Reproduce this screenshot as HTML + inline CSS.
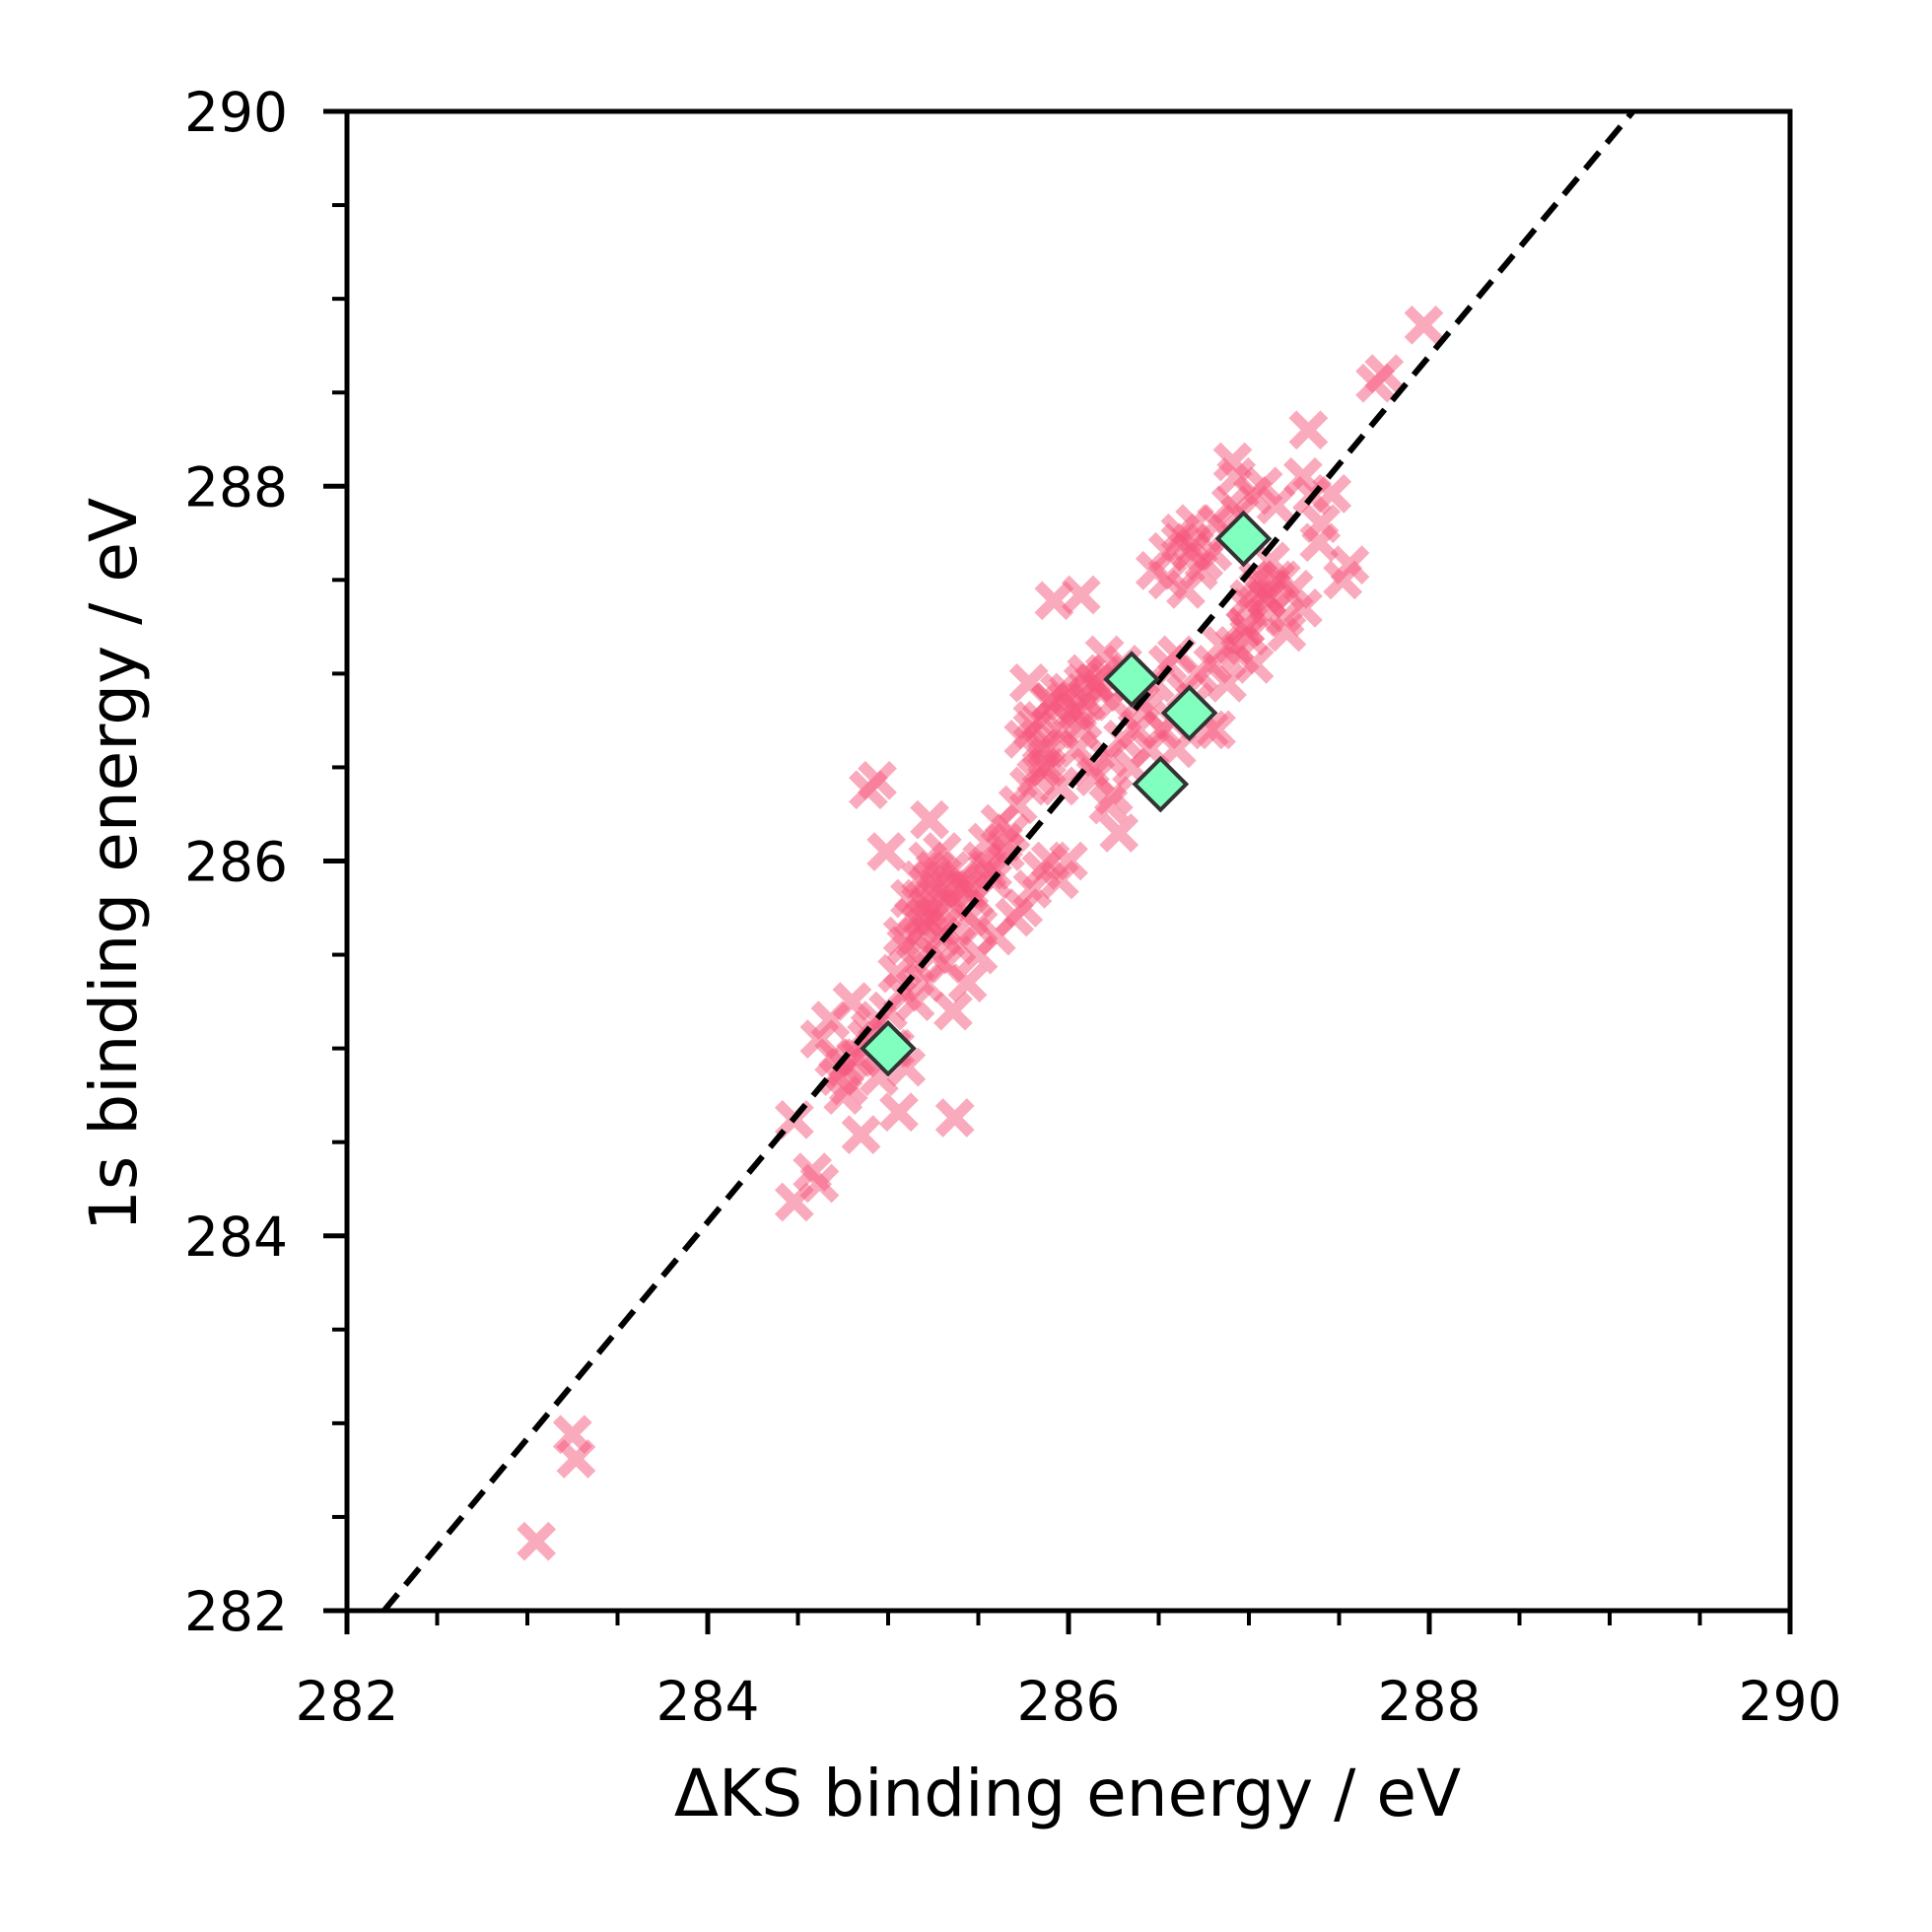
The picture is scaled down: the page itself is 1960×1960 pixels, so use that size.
<!DOCTYPE html>
<html><head><meta charset="utf-8"><style>
html,body{margin:0;padding:0;background:#fff;}
svg{display:block;font-family:"DejaVu Sans","Liberation Sans",sans-serif;}
</style></head><body>
<svg id="chart" width="1960" height="1960" viewBox="0 0 1960 1960" xmlns="http://www.w3.org/2000/svg">
<rect x="0" y="0" width="1960" height="1960" fill="#fff"/>
<g id="crosses"></g>
<line id="parity" stroke="#000" stroke-width="6" stroke-dasharray="22,12"/>
<g id="diamonds"></g>
<g id="axes"></g>
<text x="1083" y="1842" font-size="66" text-anchor="middle">ΔKS binding energy / eV</text>
<text x="0" y="0" font-size="66" text-anchor="middle" transform="translate(138,877) rotate(-90)">1s binding energy / eV</text>
</svg>
<script>
const crossX = [283.05,283.25,283.27,284.48,284.58,284.62,284.48,284.85,285.06,285.37,284.89,284.94,284.99,285.23,285.92,286.07,287.97,287.70,287.75,287.33,286.91,286.93,287.52,287.56,287.21,287.03,287.39,287.46,
284.62,284.68,284.72,284.80,284.85,284.75,284.90,284.95,285.02,285.10,284.70,284.78,285.00,285.08,
285.05,285.10,285.15,285.20,285.25,285.30,285.12,285.18,285.22,285.28,285.35,285.40,285.15,285.20,285.25,285.32,285.38,285.45,285.50,285.08,285.14,285.22,285.30,285.42,285.48,285.55,285.60,285.36,285.44,
285.55,285.62,285.68,285.72,285.58,285.65,285.50,285.75,285.80,285.85,285.90,285.70,285.78,285.88,285.95,286.00,285.82,
285.75,285.80,285.85,285.90,285.95,286.00,286.05,286.10,286.15,286.20,285.78,285.88,285.98,286.08,286.18,286.25,286.30,286.35,285.85,285.95,286.05,286.12,286.22,286.28,
286.15,286.22,286.30,286.38,286.45,286.40,286.48,286.55,286.60,286.25,286.35,286.42,286.52,286.58,286.65,286.72,286.80,286.85,286.70,286.78,286.88,286.95,287.00,
286.48,286.55,286.62,286.68,286.75,286.82,286.90,286.55,286.65,286.72,286.80,286.88,286.95,287.02,287.08,287.15,287.10,287.20,287.25,287.30,287.35,287.00,287.05,287.12,287.18,286.92,286.98,287.40,287.30,286.82,286.60,
285.18,285.24,285.28,285.34,285.26,285.30,285.20,285.16,285.34,285.40,285.85,285.90,285.95,286.02,286.08,285.80,285.88,286.10,286.14,286.20,286.06,287.00,287.05,287.10,287.15,287.08,286.98,287.12,286.62,286.70,286.68,285.45,285.52,285.58,285.64,284.82,284.88,284.76,284.94,285.04];
const crossY = [282.37,282.94,282.81,284.18,284.34,284.28,284.62,284.54,284.66,284.63,286.38,286.43,286.05,286.22,287.39,287.42,288.86,288.55,288.60,288.30,288.13,288.05,287.50,287.58,287.22,287.05,287.70,287.96,
285.05,285.15,284.85,285.25,284.95,284.75,285.10,284.85,285.00,284.90,284.95,284.80,285.20,285.30,
285.40,285.55,285.45,285.65,285.70,285.60,285.80,285.90,285.75,285.85,285.95,285.90,285.25,285.35,285.50,285.45,285.55,285.70,285.65,285.60,285.70,286.00,286.05,285.85,285.80,285.95,285.60,285.20,285.35,
286.10,286.20,286.15,286.30,285.90,286.05,285.50,285.75,285.85,285.95,286.00,285.70,286.40,286.50,285.90,286.00,286.45,
286.65,286.75,286.60,286.85,286.70,286.90,286.80,287.00,286.95,287.10,286.95,286.55,286.85,286.75,286.90,286.85,287.05,286.95,286.50,286.40,286.60,286.50,286.30,286.15,
286.45,286.55,286.65,286.70,286.60,286.85,286.95,287.05,287.10,286.35,286.50,286.80,286.70,286.75,286.90,287.00,287.05,287.15,286.85,286.70,286.95,287.10,287.20,
287.55,287.65,287.75,287.70,287.60,287.80,287.90,287.50,287.45,287.55,287.65,287.75,287.85,287.95,288.00,287.90,287.40,287.30,287.45,287.35,287.95,287.40,287.50,287.60,287.50,287.15,287.25,287.80,288.05,286.70,286.60,
285.80,285.90,285.75,285.85,285.95,285.65,285.70,285.60,285.78,285.88,286.75,286.85,286.90,286.80,286.95,286.70,286.60,286.85,286.95,287.00,286.70,287.35,287.45,287.40,287.50,287.30,287.25,287.45,287.70,287.80,287.65,285.85,286.00,285.95,286.10,284.95,285.05,284.90,285.15,285.00];
const refX = [285.00,286.35,286.67,286.51,286.97];
const refY = [285.00,286.97,286.79,286.41,287.72];
const fitX = [282.205,289.13];
const fitY = [282.0,290.0];
const xTicks = [282,284,286,288,290];
const yTicks = [282,284,286,288,290];
const minorTicks = [282.5,283,283.5,284.5,285,285.5,286.5,287,287.5,288.5,289,289.5];

const L=352,R=1816,T=113,B=1634;
function sx(v){return L+(v-282)/8*(R-L);}
function sy(v){return B-(v-282)/8*(B-T);}
const NS='http://www.w3.org/2000/svg';
function mk(tag,attrs,parent){const e=document.createElementNS(NS,tag);for(const k in attrs)e.setAttribute(k,attrs[k]);parent.appendChild(e);return e;}

const cg=document.getElementById('crosses');
for(let i=0;i<crossX.length;i++){
  const cx=sx(crossX[i]),cy=sy(crossY[i]),h=16;
  const p=mk('path',{d:`M${cx-h},${cy-h}L${cx+h},${cy+h}M${cx-h},${cy+h}L${cx+h},${cy-h}`,stroke:'#f5557c','stroke-width':11,'stroke-opacity':0.5,fill:'none'},cg);
  
  
}
const fl=document.getElementById('parity');
fl.setAttribute('x1',sx(fitX[0]));fl.setAttribute('y1',sy(fitY[0]));
fl.setAttribute('x2',sx(fitX[1]));fl.setAttribute('y2',sy(fitY[1]));

const dg=document.getElementById('diamonds');
for(let i=0;i<refX.length;i++){
  const cx=sx(refX[i]),cy=sy(refY[i]),h=26;
  const d=mk('path',{d:`M${cx},${cy-h}L${cx+h},${cy}L${cx},${cy+h}L${cx-h},${cy}Z`,fill:'#80ffbf',stroke:'#333','stroke-width':4},dg);
  
  
}

const ag=document.getElementById('axes');
const fr=mk('rect',{x:L,y:T,width:R-L,height:B-T,fill:'none',stroke:'#000','stroke-width':5},ag);


xTicks.forEach(v=>{
  const x=sx(v);
  const t=mk('line',{x1:x,y1:B,x2:x,y2:B+24,stroke:'#000','stroke-width':5},ag);
  
  
  const lb=mk('text',{x:x,y:1745,'font-size':55,'text-anchor':'middle'},ag);
  lb.textContent=v;
  
  
});
yTicks.forEach(v=>{
  const y=sy(v);
  const t=mk('line',{x1:L-24,y1:y,x2:L,y2:y,stroke:'#000','stroke-width':5},ag);
  
  
  const lb=mk('text',{x:292,y:y+20,'font-size':55,'text-anchor':'end'},ag);
  lb.textContent=v;
  
  
});
minorTicks.forEach(v=>{
  const x=sx(v),y=sy(v);
  const a=mk('line',{x1:x,y1:B,x2:x,y2:B+15,stroke:'#000','stroke-width':4},ag);
  
  
  const b=mk('line',{x1:L-15,y1:y,x2:L,y2:y,stroke:'#000','stroke-width':4},ag);
  
  
});
</script>
</body></html>
